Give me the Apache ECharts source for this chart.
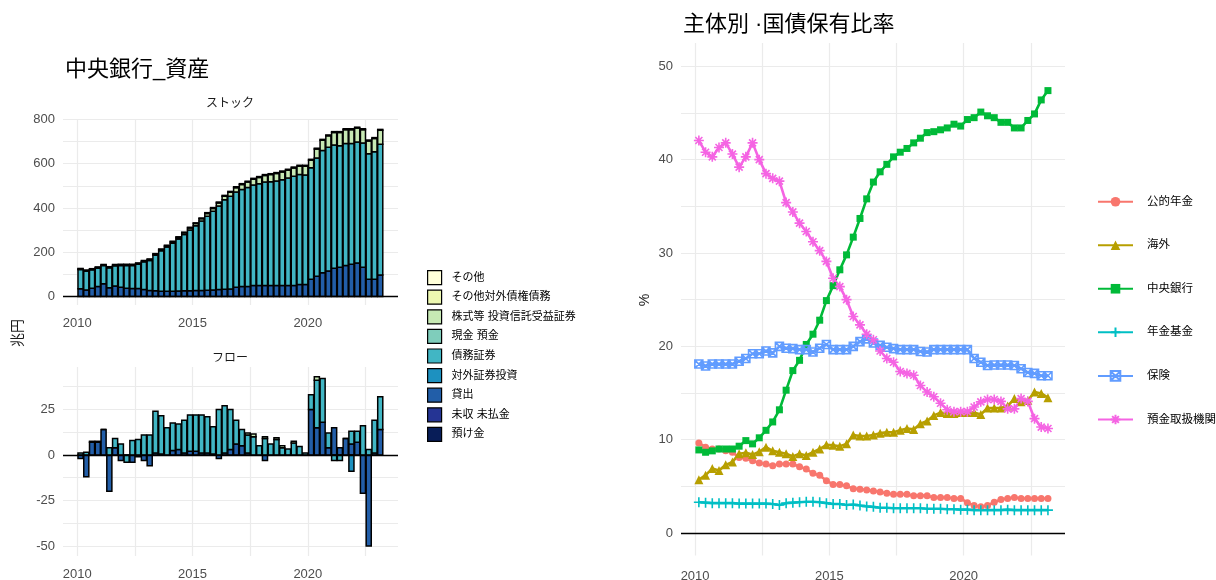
<!DOCTYPE html>
<html>
<head>
<meta charset="utf-8">
<script src="https://cdn.jsdelivr.net/npm/echarts@6/dist/echarts.min.js"></script>
<style>
  html, body { margin: 0; padding: 0; background: #fff; }
  #chart { width: 1216px; height: 580px; }
</style>
</head>
<body>
<div id="chart"></div>
<script>
// quarterly observations, 2010Q1 .. 2023Q1
const quarters = [
  '2010Q1','2010Q2','2010Q3','2010Q4','2011Q1','2011Q2','2011Q3','2011Q4',
  '2012Q1','2012Q2','2012Q3','2012Q4','2013Q1','2013Q2','2013Q3','2013Q4',
  '2014Q1','2014Q2','2014Q3','2014Q4','2015Q1','2015Q2','2015Q3','2015Q4',
  '2016Q1','2016Q2','2016Q3','2016Q4','2017Q1','2017Q2','2017Q3','2017Q4',
  '2018Q1','2018Q2','2018Q3','2018Q4','2019Q1','2019Q2','2019Q3','2019Q4',
  '2020Q1','2020Q2','2020Q3','2020Q4','2021Q1','2021Q2','2021Q3','2021Q4',
  '2022Q1','2022Q2','2022Q3','2022Q4','2023Q1'
];

// 中央銀行 資産 (兆円) - ストック
const stockLoans = [35,30,38,45,58,40,48,42,38,36,36,32,28,
  26,24,24,24,25,26,26,27,28,29,30,32,33,34,
  42,45,46,50,50,50,50,50,50,50,50,55,55,
  78,92,108,116,128,132,140,146,152,133,78,78,97];
const stockDebt = [87,85,83,84,82,90,91,98,102,104,110,125,135,
  161,183,200,217,235,254,275,293,313,334,355,377,404,419,
  430,439,447,454,460,467,469,472,478,485,494,496,494,
  504,534,552,558,557,549,551,545,546,561,567,576,591];
const stockEquity = [2,2,2,2,2,2,3,3,3,3,3,3,4,
  4,5,5,6,7,8,9,10,11,12,13,14,16,18,
  20,22,24,26,28,30,32,34,35,36,37,38,40,
  34,40,46,52,56,60,63,63,63,60,58,60,63];
const stockOther = [3,3,3,3,3,3,3,3,3,3,3,3,3,
  3,3,3,3,3,3,3,3,3,4,4,4,4,4,
  4,4,4,4,4,4,4,4,4,4,4,4,4,
  4,4,4,4,4,4,4,4,4,4,4,4,4];

// 中央銀行 資産 (兆円) - フロー
const flowLoans = [-2,-12,7,7,14,-20,4,-3,0,-4,-1,-3,-6,
  1,0.5,0,2.5,3,1,2,2,1,1,0.5,-2,1,3,
  6,5,1,0,0,-3,0,0,0,0,0,0,0,
  25,15,18,4,15,4,9,6,7,-21,-50,1,14];
const flowDebt = [1,1.5,0.5,0.5,0,4,5,6,-4,8,8.5,11,11,
  23,21,15,15,14,18,20,20,21,20,15,25,26,22,
  13,9,10,10,5,9,6,8.5,4,3.3,6.5,4.6,1,
  8,26,24,8,-3,-3,0,7,6,16,3,18,18];
const flowEquity = [null,null,null,null,null,null,null,null,null,null,null,null,null,
  null,null,null,null,null,null,null,null,null,null,null,null,null,null,
  null,null,1,1.5,null,1,null,1,1,null,1,null,null,
  null,2,null,null,null,null,null,null,null,null,null,null,null];
const flowForeign = [null,null,null,null,null,null,null,null,null,null,null,null,null,
  null,null,null,null,null,null,null,null,null,null,null,null,null,null,
  null,null,null,null,null,null,null,null,null,null,null,null,null,
  null,null,null,null,null,null,null,-9,null,null,null,null,null];

// 主体別 国債保有比率 (%)
const publicPension = [9.65,9.2,9.0,9.0,8.8,8.65,8.1,8.0,7.75,7.5,7.4,7.2,7.4,7.4,7.4,7.1,6.85,6.4,6.2,5.6,
  5.2,5.2,5.05,4.75,4.7,4.6,4.5,4.4,4.25,4.15,4.15,4.15,4.0,4.0,4.0,3.8,3.8,3.8,3.7,3.7,
  3.25,2.95,2.8,2.95,3.3,3.6,3.7,3.8,3.7,3.7,3.7,3.7,3.7];
const overseas = [5.7,6.2,6.9,6.7,7.3,7.6,8.5,8.6,8.4,8.7,9.2,8.8,8.65,8.5,8.2,8.5,8.3,8.65,9.0,9.45,
  9.4,9.3,9.55,10.5,10.4,10.4,10.5,10.7,10.8,10.8,11.0,11.2,11.1,11.7,12.0,12.6,12.9,12.8,12.8,12.9,
  12.9,12.9,12.7,13.4,13.4,13.4,13.6,14.4,14.05,14.2,15.1,14.95,14.5];
const centralBank = [8.9,8.65,8.8,9.0,9.0,9.0,9.3,9.9,9.55,10.2,11.0,11.9,13.2,15.3,17.4,18.5,20.2,21.3,22.8,24.9,
  26.5,28.2,29.8,31.7,33.7,35.8,37.6,38.7,39.5,40.3,40.8,41.2,41.8,42.3,42.9,43.0,43.2,43.4,43.8,43.6,
  44.3,44.5,45.1,44.7,44.5,44.0,44.0,43.4,43.4,44.2,44.9,46.4,47.4];
const pensionFund = [3.3,3.25,3.2,3.2,3.2,3.2,3.15,3.15,3.15,3.15,3.15,3.1,3.0,3.2,3.25,3.3,3.35,3.35,3.3,3.2,
  3.1,3.1,3.0,3.05,2.95,2.85,2.8,2.7,2.7,2.65,2.65,2.65,2.65,2.65,2.6,2.6,2.6,2.55,2.55,2.5,
  2.5,2.45,2.45,2.45,2.45,2.45,2.5,2.45,2.45,2.45,2.45,2.45,2.45];
const insurance = [18.1,17.9,18.1,18.1,18.1,18.1,18.4,18.7,19.2,19.2,19.5,19.3,20.0,19.8,19.75,19.65,19.65,19.4,19.8,20.2,
  19.65,19.65,19.65,20.0,20.5,20.8,20.35,20.1,19.9,19.75,19.65,19.65,19.65,19.45,19.4,19.65,19.65,19.65,19.65,19.65,
  19.65,18.7,18.3,17.95,18.0,18.0,18.0,17.95,17.6,17.2,17.1,16.85,16.85];
const depository = [42.05,40.8,40.3,41.3,41.8,40.6,39.2,40.3,41.8,40.0,38.5,38.0,37.7,35.4,34.4,33.2,32.3,31.2,30.25,29.1,
  27.3,26.4,25.0,23.2,22.3,21.3,20.7,19.5,18.7,18.3,17.3,17.1,16.9,15.8,15.1,14.6,13.9,13.2,13.0,13.0,
  13.0,13.5,14.05,14.3,14.3,14.1,13.3,13.3,14.4,14.1,12.25,11.35,11.2];

// axis ticks / gridlines
const yearGrid = [2010, 2012.5, 2015, 2017.5, 2020, 2022.5];
const yearLabels = [2010, 2015, 2020];
const stockGrid = [0, 100, 200, 300, 400, 500, 600, 700, 800];
const stockLabels = [0, 200, 400, 600, 800];
const flowGrid = [-50, -37.5, -25, -12.5, 0, 12.5, 25, 37.5];
const flowLabels = [-50, -25, 0, 25];
const shareGrid = [0, 5, 10, 15, 20, 25, 30, 35, 40, 45, 50];
const shareLabels = [0, 10, 20, 30, 40, 50];

const assetNames = ['その他', 'その他対外債権債務', '株式等 投資信託受益証券', '現金 預金',
  '債務証券', '対外証券投資', '貸出', '未収 未払金', '預け金'];
const assetColors = ['#FFFFD9', '#EDF8B1', '#C7E9B4', '#7FCDBB', '#41B6C4', '#1D91C0', '#225EA8', '#253494', '#081D58'];

const holderNames = ['公的年金', '海外', '中央銀行', '年金基金', '保険', '預金取扱機関'];
const holderColors = ['#F8766D', '#B79F00', '#00BA38', '#00BFC4', '#619CFF', '#F564E3'];

const font = "'Liberation Sans', 'Noto Sans CJK JP', sans-serif";
const qx = q => +q.slice(0, 4) + (+q.slice(5) - 1) * 0.25 + 0.14;
const pairs = vals => quarters.map((q, i) => [qx(q), vals[i]]);

const stockData = {'その他': stockOther, '株式等 投資信託受益証券': stockEquity, '債務証券': stockDebt, '貸出': stockLoans};
const flowData = {'株式等 投資信託受益証券': flowEquity, '債務証券': flowDebt, '対外証券投資': flowForeign, '貸出': flowLoans};

// black reference line at y = 0
const zeroLine = {
  silent: true, symbol: 'none', label: {show: false}, z: 5,
  lineStyle: {color: '#000', width: 1.3, type: 'solid'},
  emphasis: {disabled: true},
  data: [{yAxis: 0}]
};

// stacked columns (positive and negative parts stacked separately, like position_stack)
function barItem(params, api) {
  const x = api.value(0);
  const p0 = api.coord([x, api.value(1)]);
  const p1 = api.coord([x, api.value(2)]);
  const w = api.size([0.22, 0])[0];
  return {
    type: 'rect',
    shape: {x: p0[0] - w / 2, y: Math.min(p0[1], p1[1]), width: w, height: Math.abs(p1[1] - p0[1])},
    style: {fill: api.visual('color'), stroke: '#000', lineWidth: 1.5}
  };
}

function stackedSeries(table, axisIndex) {
  const pos = quarters.map(() => 0);
  const neg = quarters.map(() => 0);
  const out = [];
  for (let k = assetNames.length - 1; k >= 0; k--) {
    const name = assetNames[k];
    const vals = table[name] || [];
    const data = [];
    quarters.forEach((q, i) => {
      const v = vals[i];
      if (v == null) return;
      const acc = v >= 0 ? pos : neg;
      const base = acc[i];
      acc[i] = base + v;
      data.push([qx(q), base, acc[i]]);
    });
    const s = {
      name, type: 'custom', xAxisIndex: axisIndex, yAxisIndex: axisIndex,
      renderItem: barItem, clip: true,
      encode: {x: 0, y: [1, 2]},
      itemStyle: {color: assetColors[k], borderColor: '#000', borderWidth: 1.2},
      data
    };
    if (name === '貸出') s.markLine = zeroLine;
    out.push(s);
  }
  return out;
}

const series = [...stackedSeries(stockData, 0), ...stackedSeries(flowData, 1)];

const holderData = [publicPension, overseas, centralBank, pensionFund, insurance, depository];
const holderSymbols = ['circle', 'triangle', 'rect',
  'path://M0,-5V5M-5,0H5',
  'path://M-4,-4H4V4H-4Z M-4,-4L4,4 M-4,4L4,-4',
  'path://M0,-5V5M-5,0H5M-3.5,-3.5L3.5,3.5M-3.5,3.5L3.5,-3.5'];
const holderSizes = [7, 9, 7, 10, 8, 10];
holderNames.forEach((name, k) => {
  const stroked = k >= 3;
  const s = {
    name, type: 'line', xAxisIndex: 2, yAxisIndex: 2,
    symbol: holderSymbols[k], symbolSize: holderSizes[k], showSymbol: true,
    lineStyle: {color: holderColors[k], width: 2.6},
    itemStyle: {
      color: k === 4 ? 'rgba(255,255,255,0)' : holderColors[k],
      borderColor: holderColors[k], borderWidth: stroked ? 1.6 : 0
    },
    data: pairs(holderData[k])
  };
  if (k === 0) s.markLine = zeroLine;
  series.push(s);
});

const axisX = (gridIndex, min, max, margin) => ({
  type: 'value', gridIndex, min, max,
  axisLine: {show: false, onZero: false},
  axisTick: {show: false, customValues: yearGrid},
  axisLabel: {customValues: yearLabels, color: '#4d4d4d', fontSize: 13, fontFamily: font, margin,
    formatter: v => String(v)},
  splitLine: {show: true, lineStyle: {color: '#ebebeb', width: 1.2}}
});
const axisY = (gridIndex, min, max, grid, labels) => ({
  type: 'value', gridIndex, min, max,
  axisLine: {show: false, onZero: false},
  axisTick: {show: false, customValues: grid},
  axisLabel: {customValues: labels, color: '#4d4d4d', fontSize: 13, fontFamily: font, margin: 8,
    formatter: v => String(v)},
  splitLine: {show: true, lineStyle: {color: '#ebebeb', width: 1.2}}
});

const text = (str, x, y, size, extra) => ({
  type: 'text', x, y, z: 10,
  style: Object.assign({text: str, font: size + 'px ' + font, fill: '#1a1a1a',
    textAlign: 'left', textVerticalAlign: 'middle', align: 'left', verticalAlign: 'middle'}, extra || {})
});

const option = {
  animation: false,
  backgroundColor: '#fff',
  grid: [
    {left: 63, top: 119, width: 335, height: 186, containLabel: false, outerBoundsMode: 'none'},
    {left: 63, top: 367, width: 335, height: 189, containLabel: false, outerBoundsMode: 'none'},
    {left: 681, top: 43, width: 384, height: 512.4, containLabel: false, outerBoundsMode: 'none'}
  ],
  xAxis: [
    axisX(0, 2009.38, 2023.91, 12),
    axisX(1, 2009.38, 2023.91, 12),
    axisX(2, 2009.475, 2023.775, 14.5)
  ],
  yAxis: [
    axisY(0, -38, 802, stockGrid, stockLabels),
    axisY(1, -55.5, 48.3, flowGrid, flowLabels),
    axisY(2, -2.4, 52.5, shareGrid, shareLabels)
  ],
  legend: [
    {
      data: assetNames, orient: 'vertical', left: 427, top: 270, padding: 0,
      icon: 'rect', itemWidth: 14, itemHeight: 14, itemGap: 4.4,
      selectedMode: false,
      itemStyle: {borderColor: '#000', borderWidth: 1.2},
      textStyle: {fontSize: 11, color: '#000', fontFamily: font, padding: [0, 0, 0, 5]}
    },
    {
      data: holderNames, orient: 'vertical', left: 1097, top: 196, padding: 0,
      itemWidth: 35, itemHeight: 12, itemGap: 32,
      selectedMode: false,
      textStyle: {fontSize: 11.5, color: '#000', fontFamily: font, padding: [0, 0, 0, 9]}
    }
  ],
  graphic: [
    text('中央銀行_資産', 65, 70, 22, {fill: '#000'}),
    text('主体別 ·国債保有比率', 683, 25, 22, {fill: '#000'}),
    text('ストック', 230, 104, 12, {textAlign: 'center', align: 'center'}),
    text('フロー', 230, 359, 12, {textAlign: 'center', align: 'center'}),
    {type: 'rect', z: 11, shape: {x: 200, y: 361.5, width: 62, height: 5}, style: {fill: '#fff'}},
    Object.assign(text('兆円', 18, 333, 14, {textAlign: 'center', align: 'center'}), {rotation: Math.PI / 2}),
    Object.assign(text('%', 645, 300, 14, {textAlign: 'center', align: 'center'}), {rotation: Math.PI / 2})
  ],
  series
};

const chart = echarts.init(document.getElementById('chart'));
chart.setOption(option);
</script>
</body>
</html>
